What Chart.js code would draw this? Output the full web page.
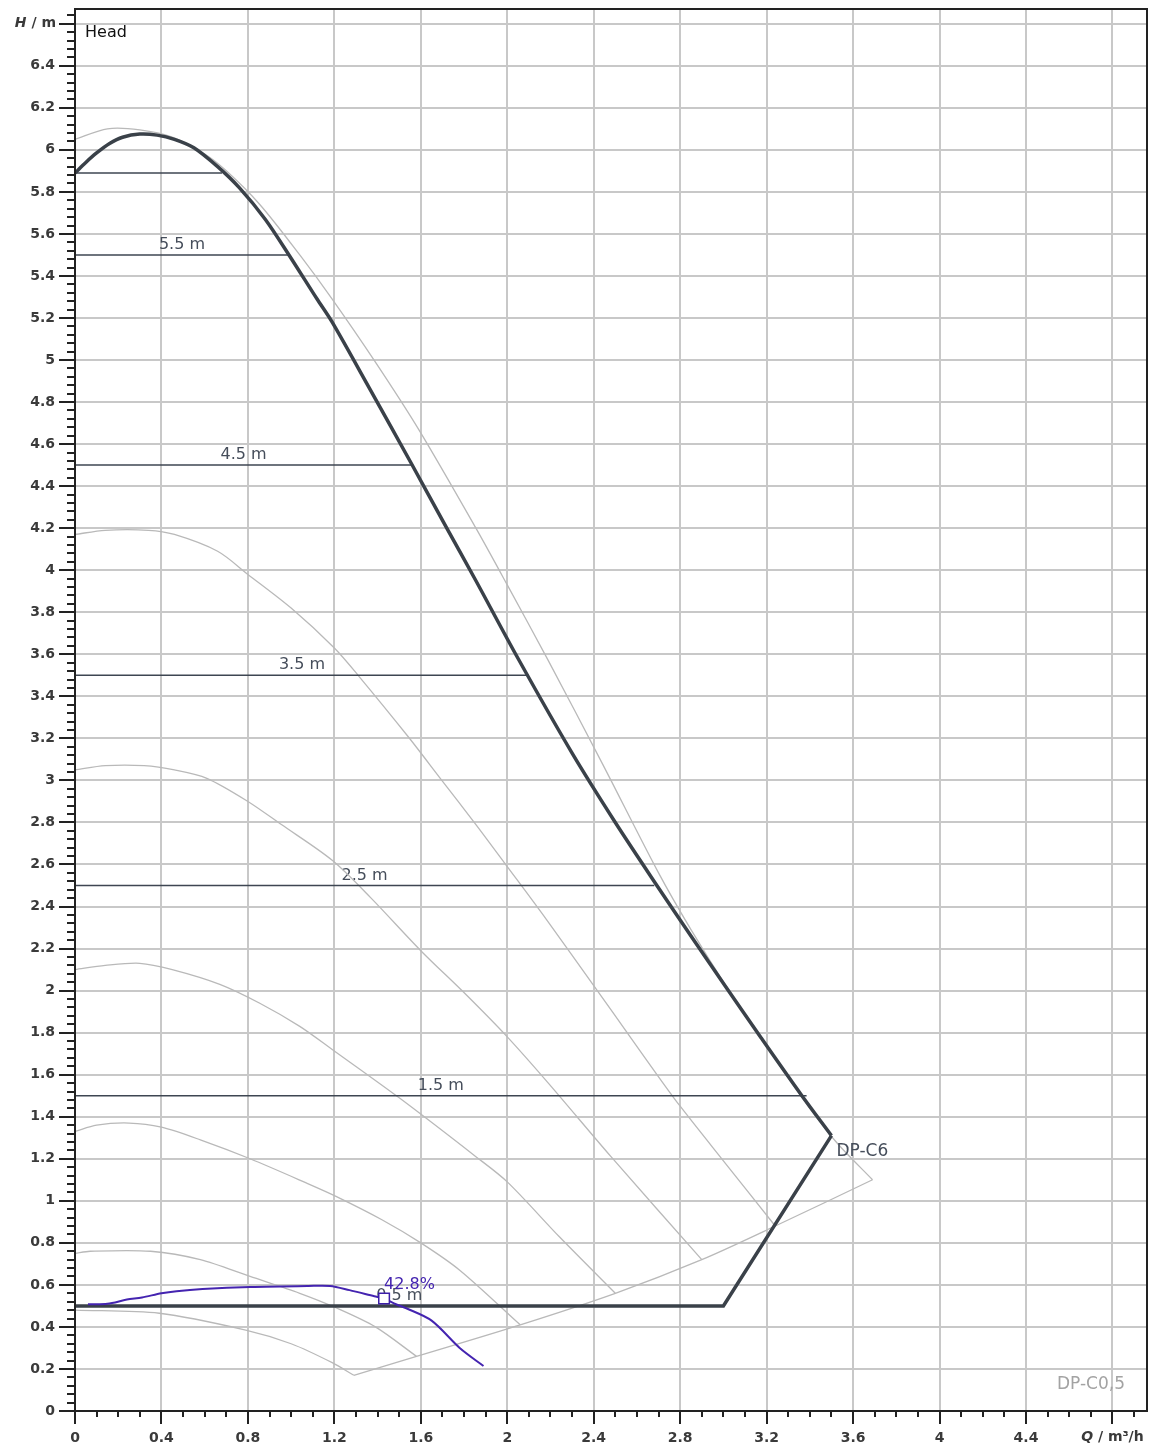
<!DOCTYPE html>
<html>
<head>
<meta charset="utf-8">
<title>DP-C6 Head</title>
<script src="https://cdn.jsdelivr.net/npm/chart.js@4.4.1/dist/chart.umd.min.js"></script>
<style>
  html, body { margin: 0; padding: 0; background: #fff; }
  #chart { display: block; }
</style>
</head>
<body>
<canvas id="chart" width="1157" height="1454"></canvas>
<script>
// axis ticks
const xTicks = [0, 0.4, 0.8, 1.2, 1.6, 2, 2.4, 2.8, 3.2, 3.6, 4, 4.4, 4.8];
const yTicks = [0, 0.2, 0.4, 0.6, 0.8, 1, 1.2, 1.4, 1.6, 1.8, 2, 2.2, 2.4, 2.6, 2.8, 3, 3.2, 3.4,
  3.6, 3.8, 4, 4.2, 4.4, 4.6, 4.8, 5, 5.2, 5.4, 5.6, 5.8, 6, 6.2, 6.4, 6.6];

// DP-C6 max curve (thick)
const maxQ = [0, 0.05, 0.10, 0.16, 0.22, 0.30, 0.38, 0.46, 0.55, 0.66, 0.76, 0.88, 0.99, 1.12,
  1.19, 1.36, 1.555, 1.715, 1.855, 2.05, 2.30, 2.50, 2.686, 2.85, 3.01, 3.175, 3.36, 3.50];
const maxH = [5.89, 5.94, 5.985, 6.03, 6.06, 6.075, 6.07, 6.05, 6.01, 5.92, 5.82, 5.67, 5.50, 5.29,
  5.18, 4.87, 4.51, 4.21, 3.95, 3.58, 3.13, 2.80, 2.51, 2.26, 2.02, 1.775, 1.505, 1.31];
// limit line back to the DP-C0,5 setting
const limitQ = [3.50, 3.00, 0];
const limitH = [1.31, 0.50, 0.50];

// constant head lines
const headLevels = [5.89, 5.5, 4.5, 3.5, 2.5, 1.5, 0.5];
const headEnds = [0.68, 0.99, 1.56, 2.10, 2.68, 3.385, 3.0];
const headLabels = ['', '5.5 m', '4.5 m', '3.5 m', '2.5 m', '1.5 m', '0.5 m'];

// speed curves (light gray)
const grayAQ = [0, 0.15, 0.30, 0.45, 0.60, 0.70, 0.855, 1.04, 1.19, 1.39, 1.59, 1.855, 2.0, 2.19,
  2.44, 2.70, 2.85, 3.02, 3.21, 3.40, 3.53, 3.69];
const grayAH = [6.05, 6.10, 6.095, 6.06, 5.98, 5.90, 5.74, 5.50, 5.29, 4.99, 4.67, 4.20, 3.93, 3.57,
  3.08, 2.56, 2.29, 2.01, 1.72, 1.44, 1.27, 1.10];
const grayBQ = [0, 0.14, 0.34, 0.46, 0.66, 0.80, 1.0, 1.2, 1.31, 1.54, 1.69, 1.855, 2.0, 2.18, 2.41,
  2.575, 2.70, 2.80, 3.0, 3.24];
const grayBH = [4.17, 4.19, 4.19, 4.17, 4.09, 3.98, 3.82, 3.63, 3.50, 3.21, 3.01, 2.79, 2.59, 2.34, 2.01,
  1.77, 1.59, 1.45, 1.19, 0.88];
const grayCQ = [0, 0.14, 0.32, 0.46, 0.61, 0.80, 0.955, 1.19, 1.37, 1.60, 1.81, 2.0, 2.19, 2.48, 2.90];
const grayCH = [3.05, 3.07, 3.07, 3.05, 3.01, 2.90, 2.79, 2.62, 2.44, 2.19, 1.98, 1.78, 1.56, 1.21, 0.72];
const grayDQ = [0, 0.14, 0.30, 0.45, 0.67, 0.855, 1.04, 1.19, 1.50, 1.855, 2.0, 2.24, 2.50];
const grayDH = [2.10, 2.12, 2.13, 2.10, 2.03, 1.94, 1.83, 1.72, 1.49, 1.21, 1.09, 0.83, 0.56];
const grayEQ = [0, 0.10, 0.25, 0.40, 0.58, 0.81, 1.07, 1.21, 1.42, 1.60, 1.78, 2.06];
const grayEH = [1.33, 1.36, 1.37, 1.35, 1.29, 1.20, 1.085, 1.02, 0.91, 0.80, 0.67, 0.41];
const grayFQ = [0, 0.07, 0.35, 0.58, 0.81, 1.04, 1.21, 1.39, 1.58];
const grayFH = [0.75, 0.76, 0.76, 0.72, 0.64, 0.56, 0.49, 0.40, 0.26];
const grayGQ = [0, 0.39, 0.79, 1.0, 1.19, 1.29];
const grayGH = [0.48, 0.465, 0.385, 0.32, 0.23, 0.17];
// end of curves line
const endQ = [1.29, 1.58, 2.06, 2.50, 2.90, 3.24, 3.69];
const endH = [0.17, 0.26, 0.41, 0.56, 0.72, 0.88, 1.10];

// actual curve (blue) and duty point
const blueQ = [0.06, 0.15, 0.24, 0.31, 0.40, 0.47, 0.59, 0.81, 1.08, 1.18, 1.27, 1.385, 1.43, 1.485,
  1.53, 1.65, 1.78, 1.89];
const blueH = [0.508, 0.51, 0.53, 0.54, 0.56, 0.57, 0.58, 0.59, 0.595, 0.595, 0.575, 0.546, 0.535, 0.508,
  0.49, 0.43, 0.30, 0.214];
const opQ = [1.43];
const opH = [0.535];
const opLabel = '42.8%';

const tickFont = { family: 'DejaVu Sans', size: 14, weight: 'bold' };
const tickColor = '#3a3a3a';
const FONT = '"DejaVu Sans"';

function pts(qs, hs) {
  return qs.map((q, i) => ({ x: q, y: hs[i] }));
}
function fmt(v) {
  return String(Math.round(v * 10) / 10);
}

const datasets = [];
datasets.push({
  label: 'Betriebspunkt', data: pts(opQ, opH), showLine: false,
  pointStyle: 'rect', pointRadius: 7.5, pointBorderWidth: 1.5,
  pointBorderColor: '#3c1ea8', pointBackgroundColor: '#ffffff', order: 0
});
datasets.push({
  label: 'Kennlinie', data: pts(blueQ, blueH), borderColor: '#4424b0', borderWidth: 2,
  tension: 0.3, order: 1
});
datasets.push({
  label: 'DP-C6', data: pts(maxQ, maxH), borderColor: '#3a4149', borderWidth: 3.5,
  tension: 0.3, order: 2
});
datasets.push({
  label: 'Grenze', data: pts(limitQ, limitH), borderColor: '#3a4149', borderWidth: 3.5,
  tension: 0, order: 2
});
headLevels.forEach((h, i) => {
  datasets.push({
    label: headLabels[i] || 'Linie', data: [{ x: 0, y: h }, { x: headEnds[i], y: h }],
    borderColor: '#3e4652', borderWidth: 1.5, tension: 0, order: 3
  });
});
[[grayAQ, grayAH], [grayBQ, grayBH], [grayCQ, grayCH], [grayDQ, grayDH], [grayEQ, grayEH],
 [grayFQ, grayFH], [grayGQ, grayGH], [endQ, endH]].forEach(([q, h]) => {
  datasets.push({
    label: 'n', data: pts(q, h), borderColor: '#b9b9b9', borderWidth: 1.3,
    tension: 0.3, order: 4
  });
});
datasets.forEach(d => { if (d.showLine === undefined) d.showLine = true; });

const decor = {
  id: 'decor',
  beforeDatasetsDraw(chart) {
    const { ctx, scales: { x, y } } = chart;
    ctx.save();
    ctx.font = '16px ' + FONT;
    ctx.fillStyle = '#454d5a';
    ctx.textAlign = 'center';
    ctx.textBaseline = 'alphabetic';
    headLevels.forEach((h, i) => {
      if (!headLabels[i]) return;
      ctx.fillText(headLabels[i], x.getPixelForValue(headEnds[i] / 2), y.getPixelForValue(h) - 6);
    });
    ctx.restore();
  },
  afterDatasetsDraw(chart) {
    const { ctx, chartArea: a, scales: { x, y } } = chart;
    ctx.save();
    ctx.textBaseline = 'alphabetic';
    // duty point label
    ctx.font = '16px ' + FONT;
    ctx.fillStyle = '#4424b0';
    ctx.textAlign = 'left';
    ctx.fillText(opLabel, x.getPixelForValue(opQ[0]), y.getPixelForValue(opH[0]) - 10);
    // curve names
    ctx.font = '17px ' + FONT;
    ctx.fillStyle = '#454d5a';
    ctx.fillText('DP-C6', x.getPixelForValue(limitQ[0]) + 5, y.getPixelForValue(limitH[0]) + 20);
    ctx.fillStyle = '#a3a3a3';
    ctx.textAlign = 'right';
    ctx.fillText('DP-C0,5', a.right - 22, a.bottom - 22);
    // title inside plot
    ctx.font = '16px ' + FONT;
    ctx.fillStyle = '#111';
    ctx.textAlign = 'left';
    ctx.fillText('Head', a.left + 10, a.top + 28);
    ctx.restore();
  },
  afterDraw(chart) {
    const { ctx, chartArea: a, scales: { x, y } } = chart;
    ctx.save();
    ctx.strokeStyle = '#222';
    ctx.lineWidth = 2;
    ctx.strokeRect(a.left, a.top, a.right - a.left, a.bottom - a.top);
    // tick marks (major + minor)
    ctx.beginPath();
    for (let i = 0; i * 0.1 <= x.max; i++) {
      const px = Math.round(x.getPixelForValue(i * 0.1));
      ctx.moveTo(px, a.bottom);
      ctx.lineTo(px, a.bottom + (i % 4 === 0 ? 13 : 6));
    }
    for (let i = 0; i * 0.04 <= y.max; i++) {
      const py = Math.round(y.getPixelForValue(i * 0.04));
      ctx.moveTo(a.left, py);
      ctx.lineTo(a.left - (i % 5 === 0 ? 16 : 8), py);
    }
    ctx.stroke();
    // axis titles
    const bold = 'bold 14px ' + FONT;
    const italic = 'italic bold 14px ' + FONT;
    ctx.fillStyle = tickColor;
    ctx.textBaseline = 'middle';
    ctx.textAlign = 'left';
    const hy = y.getPixelForValue(6.6);
    ctx.font = bold;
    const wRest = ctx.measureText(' / m').width;
    ctx.font = italic;
    const wH = ctx.measureText('H').width;
    let sx = a.left - 19 - wRest - wH;
    ctx.fillText('H', sx, hy);
    ctx.font = bold;
    ctx.fillText(' / m', sx + wH, hy);

    ctx.textBaseline = 'top';
    ctx.font = bold;
    const wRestQ = ctx.measureText(' / m³/h').width;
    ctx.font = italic;
    const wQ = ctx.measureText('Q').width;
    sx = x.getPixelForValue(4.8) - (wQ + wRestQ) / 2;
    const ty = a.bottom + 19;
    ctx.fillText('Q', sx, ty);
    ctx.font = bold;
    ctx.fillText(' / m³/h', sx + wQ, ty);
    ctx.restore();
  }
};

new Chart(document.getElementById('chart'), {
  type: 'scatter',
  data: { datasets },
  plugins: [decor],
  options: {
    responsive: false,
    animation: false,
    devicePixelRatio: 1,
    layout: { padding: { top: 7, right: 10, left: 0, bottom: 0 } },
    elements: { point: { radius: 0 } },
    plugins: { legend: { display: false }, tooltip: { enabled: false } },
    scales: {
      x: {
        type: 'linear', min: 0, max: 4.96,
        afterBuildTicks: s => { s.ticks = xTicks.map(v => ({ value: v })); },
        afterFit: s => { s.height = 43; s.paddingLeft = 0; s.paddingRight = 0; },
        grid: { color: '#c8c8c8', lineWidth: 2, drawTicks: false },
        border: { display: false },
        ticks: {
          padding: 19, font: tickFont, color: tickColor, maxRotation: 0, autoSkip: false,
          callback: v => (v === 4.8 ? '' : fmt(v))
        }
      },
      y: {
        type: 'linear', min: 0, max: 6.67,
        afterBuildTicks: s => { s.ticks = yTicks.map(v => ({ value: v })); },
        afterFit: s => { s.width = 75; s.paddingTop = 0; s.paddingBottom = 0; },
        grid: { color: '#c8c8c8', lineWidth: 2, drawTicks: false },
        border: { display: false },
        ticks: {
          padding: 20, font: tickFont, color: tickColor, autoSkip: false,
          callback: v => (v === 6.6 ? '' : fmt(v))
        }
      }
    }
  }
});
</script>
</body>
</html>
